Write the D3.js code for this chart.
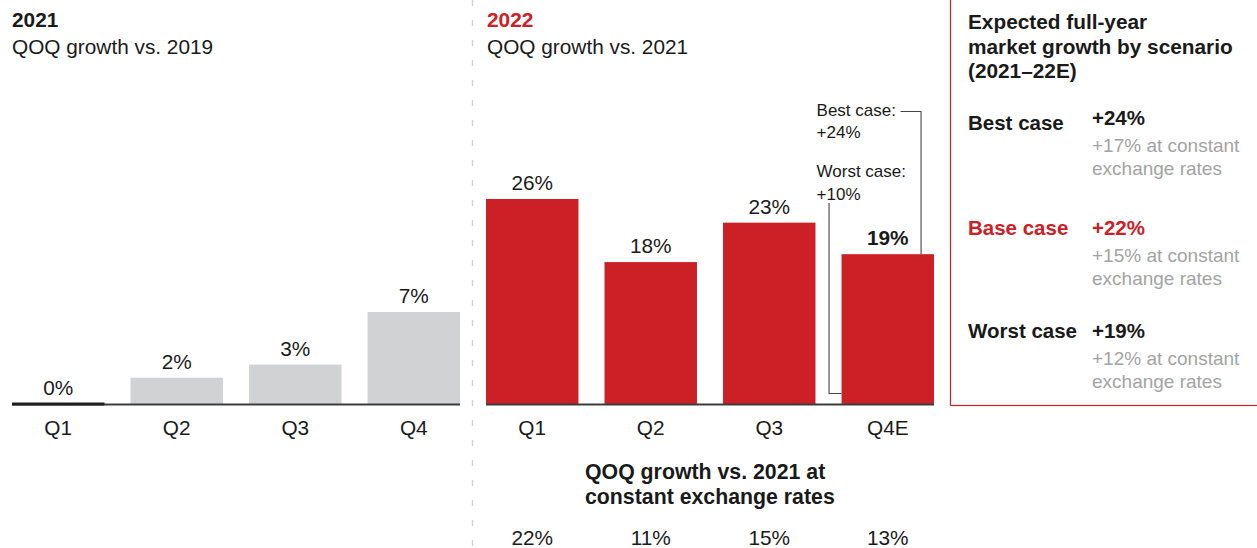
<!DOCTYPE html>
<html><head><meta charset="utf-8">
<script src="https://cdn.jsdelivr.net/npm/d3@7"></script>
<style>
html,body{margin:0;padding:0;background:#fff;}
svg{display:block;font-family:"Liberation Sans",Arial,sans-serif;}
</style></head>
<body>
<svg id="chart" width="1257" height="548"></svg>
<script>
const quarters2021 = ["Q1","Q2","Q3","Q4"];
const growth2021 = [0,2,3,7];
const quarters2022 = ["Q1","Q2","Q3","Q4E"];
const growth2022 = [26,18,23,19];
const constantFx2022 = [22,11,15,13];
const q4Cases = ["Best case:","Worst case:"];
const q4CaseValues = [24,10];
const scenarios = ["Best case","Base case","Worst case"];
const scenarioGrowth = [24,22,19];
const scenarioConstantFx = [17,15,12];

const RED = "#cc2027", GREY_BAR = "#d1d2d4", GREY_TXT = "#a3a3a3", INK = "#1a1a1a";
const svg = d3.select("#chart");
const baseY = 404;
const pct = v => v + "%";
const FS = 20.8;

// scales
const xL = d3.scaleBand().domain(quarters2021).range([12,460]).paddingInner(0.22).paddingOuter(0);
const xR = d3.scaleBand().domain(quarters2022).range([486,934]).paddingInner(0.22).paddingOuter(0);
const yL = d3.scaleLinear().domain([0,7]).range([baseY, 312]);
const yR = d3.scaleLinear().domain([0,26]).range([baseY, 199]);

// divider
svg.append("line").attr("x1",472.5).attr("x2",472.5).attr("y1",0).attr("y2",548)
  .attr("stroke","#cfcfcf").attr("stroke-width",1.3).attr("stroke-dasharray","6,14");

// titles
function title(x, year, color, sub){
  svg.append("text").attr("x",x).attr("y",27).attr("font-size",FS).attr("font-weight","bold").attr("fill",color).text(year);
  svg.append("text").attr("x",x).attr("y",54).attr("font-size",FS).attr("fill",INK).text(sub);
}
title(12,"2021",INK,"QOQ growth vs. 2019");
title(487,"2022",RED,"QOQ growth vs. 2021");

// left bars
const gL = svg.append("g");
gL.selectAll("rect").data(growth2021).join("rect")
  .attr("x",(d,i)=>xL(quarters2021[i])).attr("width",xL.bandwidth())
  .attr("y",d=>yL(d)).attr("height",d=>baseY-yL(d)).attr("fill",GREY_BAR);
gL.append("line").attr("x1",12).attr("x2",460).attr("y1",baseY+0.5).attr("y2",baseY+0.5).attr("stroke","#3c3c3c").attr("stroke-width",2);
gL.selectAll("rect.zero").data(growth2021.filter(d=>d===0)).join("rect").attr("class","zero")
  .attr("x",xL(quarters2021[growth2021.indexOf(0)])).attr("width",xL.bandwidth())
  .attr("y",baseY-1.5).attr("height",3).attr("fill","#1e1e1e");
gL.selectAll("text.val").data(growth2021).join("text").attr("class","val")
  .attr("x",(d,i)=>xL(quarters2021[i])+xL.bandwidth()/2).attr("y",d=>yL(d)-9)
  .attr("text-anchor","middle").attr("font-size",FS).attr("fill",INK).text(pct);
const axL = svg.append("g").attr("transform",`translate(0,${baseY})`).call(d3.axisBottom(xL).tickSize(0).tickPadding(0));
axL.select(".domain").remove();
axL.selectAll("text").attr("font-size",FS).attr("font-family","Liberation Sans, Arial, sans-serif").attr("fill",INK).attr("dy",null).attr("y",31);

// right bars
const gR = svg.append("g");
gR.selectAll("rect").data(growth2022).join("rect")
  .attr("x",(d,i)=>xR(quarters2022[i])).attr("width",xR.bandwidth())
  .attr("y",d=>yR(d)).attr("height",d=>baseY-yR(d)).attr("fill",RED);
gR.append("line").attr("x1",486).attr("x2",934).attr("y1",baseY+0.5).attr("y2",baseY+0.5).attr("stroke","#3c3c3c").attr("stroke-width",2);
gR.selectAll("text.val").data(growth2022).join("text").attr("class","val")
  .attr("x",(d,i)=>xR(quarters2022[i])+xR.bandwidth()/2).attr("y",d=>yR(d)-9)
  .attr("text-anchor","middle").attr("font-size",FS).attr("fill",INK)
  .attr("font-weight",(d,i)=>i===growth2022.length-1?"bold":"normal").text(pct);
const axR = svg.append("g").attr("transform",`translate(0,${baseY})`).call(d3.axisBottom(xR).tickSize(0).tickPadding(0));
axR.select(".domain").remove();
axR.selectAll("text").attr("font-size",FS).attr("font-family","Liberation Sans, Arial, sans-serif").attr("fill",INK).attr("dy",null).attr("y",31);

// Q4E scenario bracket
const q4 = quarters2022[3];
const q4x = xR(q4), q4y = yR(growth2022[3]);
const ann = svg.append("g").attr("font-size",17).attr("fill",INK);
const textX = q4x - 25;
ann.append("text").attr("x",textX).attr("y",116).text(q4Cases[0]);
ann.append("text").attr("x",textX).attr("y",138).text("+" + pct(q4CaseValues[0]));
ann.append("text").attr("x",textX).attr("y",177).text(q4Cases[1]);
ann.append("text").attr("x",textX).attr("y",200).text("+" + pct(q4CaseValues[1]));
const bx = q4x + 79.5;
svg.append("path").attr("d",`M${q4x+59},111.5H${bx}V${q4y}`).attr("fill","none").attr("stroke","#444").attr("stroke-width",1.1);
const wx = q4x - 12.5;
svg.append("path").attr("d",`M${wx},203V${baseY-10.5}H${q4x}`).attr("fill","none").attr("stroke","#444").attr("stroke-width",1.1);

// constant FX row
svg.append("text").attr("x",585).attr("y",479).attr("font-size",21.3).attr("font-weight","bold").attr("fill",INK).text("QOQ growth vs. 2021 at");
svg.append("text").attr("x",585).attr("y",504).attr("font-size",21.3).attr("font-weight","bold").attr("fill",INK).text("constant exchange rates");
svg.selectAll("text.fx").data(constantFx2022).join("text").attr("class","fx")
  .attr("x",(d,i)=>xR(quarters2022[i])+xR.bandwidth()/2).attr("y",545)
  .attr("text-anchor","middle").attr("font-size",FS).attr("fill",INK).text(pct);

// scenario panel
svg.append("rect").attr("x",950.5).attr("y",-5).attr("width",330).attr("height",410.5)
  .attr("fill","none").attr("stroke",RED).attr("stroke-width",1.2);
const pt = svg.append("g").attr("font-size",20.8).attr("font-weight","bold").attr("fill",INK);
["Expected full-year","market growth by scenario","(2021–22E)"].forEach((t,i)=>
  pt.append("text").attr("x",968).attr("y",29+i*24.5).text(t));
const rowBase = [125,235,338];
const rowLabelBase = [130,235,338];
scenarios.forEach((s,i)=>{
  const col = i===1 ? RED : INK;
  svg.append("text").attr("x",968).attr("y",rowLabelBase[i]).attr("font-size",20.5).attr("font-weight","bold").attr("fill",col).text(s);
  svg.append("text").attr("x",1092).attr("y",rowBase[i]).attr("font-size",20.5).attr("font-weight","bold").attr("fill",col).text("+" + pct(scenarioGrowth[i]));
  svg.append("text").attr("x",1092).attr("y",rowBase[i]+27).attr("font-size",19).attr("fill",GREY_TXT).text("+" + pct(scenarioConstantFx[i]) + " at constant");
  svg.append("text").attr("x",1092).attr("y",rowBase[i]+50).attr("font-size",19).attr("fill",GREY_TXT).text("exchange rates");
});
</script>
</body></html>
